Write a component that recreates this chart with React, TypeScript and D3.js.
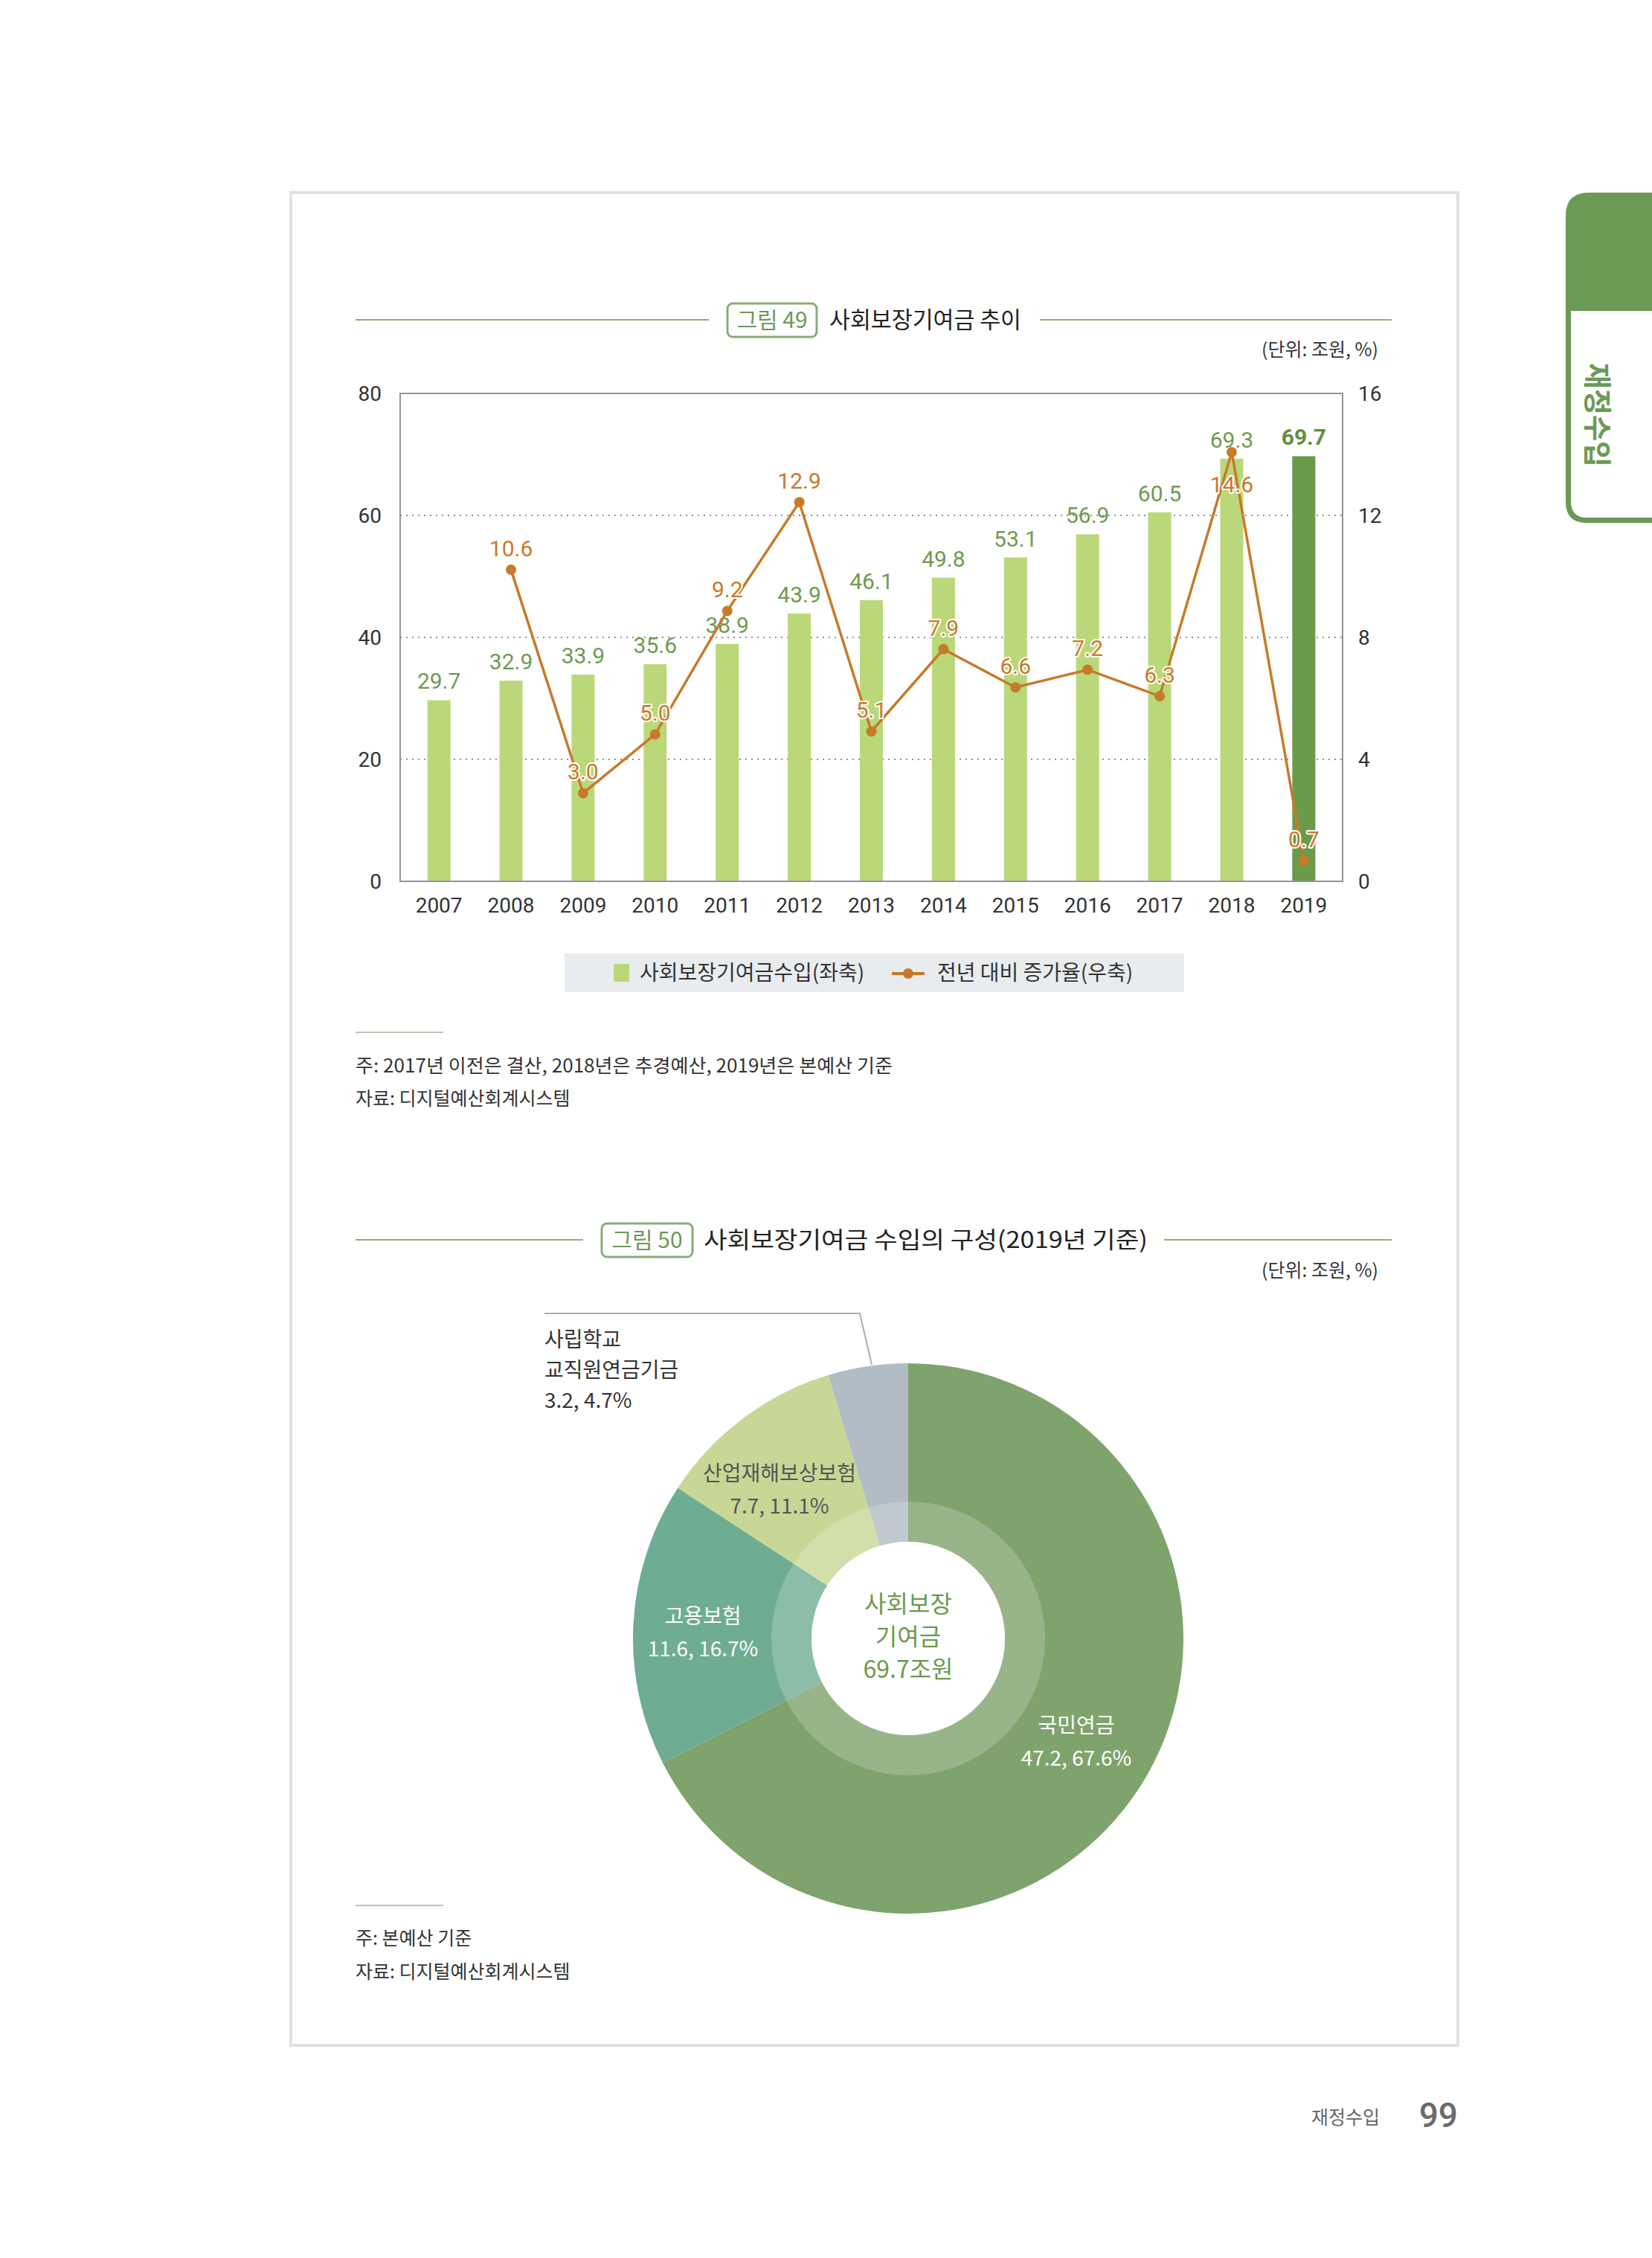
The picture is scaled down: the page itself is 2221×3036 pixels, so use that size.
import React from 'react';
import * as d3 from 'd3';

const years = ['2007', '2008', '2009', '2010', '2011', '2012', '2013', '2014', '2015', '2016', '2017', '2018', '2019'];
const revenue = [29.7, 32.9, 33.9, 35.6, 38.9, 43.9, 46.1, 49.8, 53.1, 56.9, 60.5, 69.3, 69.7];
const growthYears = ['2008', '2009', '2010', '2011', '2012', '2013', '2014', '2015', '2016', '2017', '2018', '2019'];
const growth = [10.6, 3.0, 5.0, 9.2, 12.9, 5.1, 7.9, 6.6, 7.2, 6.3, 14.6, 0.7];
const growthLabelBelow = ['2018'];
const leftTicks = [0, 20, 40, 60, 80];
const rightTicks = [0, 4, 8, 12, 16];
const gridTicks = [20, 40, 60];

const pieNames = ['국민연금', '고용보험', '산업재해보상보험', '사립학교 교직원연금기금'];
const pieAmounts = [47.2, 11.6, 7.7, 3.2];
const pieShares = [67.6, 16.7, 11.1, 4.7];
const pieColors = ['#7fa36c', '#6fad93', '#c8d796', '#b1bcc4'];

const KR = '"Noto Sans CJK KR", "Noto Sans", sans-serif';
const NUM = 'Roboto, "Noto Sans", sans-serif';
const GREEN_LINE = '#8fb07c';
const ORANGE = '#c77a2a';
const LABEL_GREEN = '#6f9a52';

function TitleBar({ y, boxX, boxW, label, title, lineL, lineR, titleX, titleLen }: any) {
  return (
    <g>
      <line x1={lineL[0]} x2={lineL[1]} y1={y} y2={y} stroke={GREEN_LINE} strokeWidth={2} />
      <line x1={lineR[0]} x2={lineR[1]} y1={y} y2={y} stroke={GREEN_LINE} strokeWidth={2} />
      <rect x={boxX} y={y - 22} width={boxW} height={45} rx={7} fill="#fff" stroke="#8aab78" strokeWidth={3} />
      <text x={boxX + boxW / 2} y={y + 11} textAnchor="middle" fontFamily={KR} fontSize={30} fill="#6c9a58">{label}</text>
      <text x={titleX} y={y + 11} fontFamily={KR} fontSize={31} fill="#222" textLength={titleLen} lengthAdjust="spacingAndGlyphs">{title}</text>
    </g>
  );
}

export default function App() {
  const L = 538, R = 1805, T = 529, B = 1185;
  const x = d3.scaleBand<string>().domain(years).range([L, R]).paddingInner(0.68).paddingOuter(0.378);
  const yL = d3.scaleLinear().domain([0, 80]).range([B, T]);
  const yR = d3.scaleLinear().domain([0, 16]).range([B, T]);
  const yLine = d3.scaleLinear().domain([0, 16.6]).range([B, T]);
  const cx = (yr: string) => (x(yr) as number) + x.bandwidth() / 2;

  const lineData = growthYears.map((yr, i) => ({ yr, v: growth[i] }));
  const linePath = d3.line<any>().x(d => cx(d.yr)).y(d => yLine(d.v))(lineData) as string;

  const pcx = 1221, pcy = 2203;
  const pieData = d3.pie<number>().sort(null).value(d => d)(pieShares);
  const outerArc = d3.arc<any>().innerRadius(130).outerRadius(370);
  const ringArc = d3.arc<any>().innerRadius(130).outerRadius(184);

  const pieLabelPos = [
    { x: 1447, y: 2330, color: '#ffffff', anchor: 'middle' },
    { x: 945, y: 2183, color: '#ffffff', anchor: 'middle' },
    { x: 1048, y: 1991, color: '#555555', anchor: 'middle' },
    { x: 732, y: 1811, color: '#333333', anchor: 'start' },
  ];

  return (
    <svg width={2221} height={3036} viewBox="0 0 2221 3036" style={{ position: 'absolute', left: 0, top: 0, background: '#fff' }}>
      <rect x={0} y={0} width={2221} height={3036} fill="#fff" />
      {/* outer frame */}
      <rect x={391} y={259} width={1569} height={2491} fill="none" stroke="#dde2e6" strokeWidth={4} />

      {/* side tab */}
      <path d="M2105,290 Q2105,259 2136,259 L2221,259 L2221,703 L2133,703 Q2105,703 2105,675 Z" fill="#6a9a55" />
      <path d="M2112,418 L2221,418 L2221,696 L2134,696 Q2112,696 2112,674 Z" fill="#fff" />
      <text x={2150} y={558} transform="rotate(90 2150 558)" textAnchor="middle" dominantBaseline="central" fontFamily={KR} fontWeight={700} fontSize={38} fill="#6a9a55">재정수입</text>

      {/* Figure 49 */}
      <TitleBar y={430} boxX={978} boxW={120} label="그림 49" title="사회보장기여금 추이" lineL={[478, 953]} lineR={[1398, 1871]} titleX={1115} titleLen={258} />
      <text x={1853} y={479} textAnchor="end" fontFamily={KR} fontSize={25} fill="#333">(단위: 조원, %)</text>

      {/* gridlines */}
      {gridTicks.map(t => (
        <line key={t} x1={L} x2={R} y1={yL(t)} y2={yL(t)} stroke="#8d9399" strokeWidth={2} strokeDasharray="2,6" />
      ))}
      {/* bars */}
      {years.map((yr, i) => (
        <rect key={yr} x={x(yr)} y={yL(revenue[i])} width={x.bandwidth()} height={B - yL(revenue[i])} fill={i === years.length - 1 ? '#6a9a4a' : '#bad87a'} />
      ))}
      {/* frame */}
      <rect x={L} y={T} width={R - L} height={B - T} fill="none" stroke="#8e969d" strokeWidth={2} />
      {/* bar labels */}
      {years.map((yr, i) => (
        <text key={yr} x={cx(yr)} y={yL(revenue[i]) - 15} textAnchor="middle" fontFamily={NUM} fontSize={30}
          fontWeight={i === years.length - 1 ? 700 : 400} fill={i === years.length - 1 ? '#5f8f40' : LABEL_GREEN}>
          {revenue[i].toFixed(1)}
        </text>
      ))}
      {/* line */}
      <path d={linePath} fill="none" stroke={ORANGE} strokeWidth={3.5} />
      {lineData.map(d => (
        <circle key={d.yr} cx={cx(d.yr)} cy={yLine(d.v)} r={7} fill={ORANGE} />
      ))}
      {lineData.map(d => {
        const below = growthLabelBelow.includes(d.yr);
        return (
          <text key={d.yr} x={cx(d.yr)} y={below ? yLine(d.v) + 54 : yLine(d.v) - 18} textAnchor="middle" fontFamily={NUM} fontSize={30}
            fill={ORANGE} stroke="#fff" strokeWidth={4} strokeLinejoin="round" style={{ paintOrder: 'stroke' }}>
            {d.v.toFixed(1)}
          </text>
        );
      })}
      {/* axes labels */}
      {leftTicks.map(t => (
        <text key={t} x={513} y={yL(t) + 10} textAnchor="end" fontFamily={NUM} fontSize={28} fill="#333">{t}</text>
      ))}
      {rightTicks.map(t => (
        <text key={t} x={1826} y={yR(t) + 10} textAnchor="start" fontFamily={NUM} fontSize={28} fill="#333">{t}</text>
      ))}
      {years.map(yr => (
        <text key={yr} x={cx(yr)} y={1227} textAnchor="middle" fontFamily={NUM} fontSize={28} fill="#333">{yr}</text>
      ))}

      {/* legend */}
      <rect x={759} y={1282} width={833} height={52} fill="#e9ecef" />
      <rect x={825} y={1296} width={21} height={24} fill="#bad87a" />
      <text x={860} y={1318} fontFamily={KR} fontSize={28} fill="#333">사회보장기여금수입(좌축)</text>
      <line x1={1199} x2={1243} y1={1309} y2={1309} stroke={ORANGE} strokeWidth={4} />
      <circle cx={1221} cy={1309} r={7} fill={ORANGE} />
      <text x={1260} y={1318} fontFamily={KR} fontSize={28} fill="#333">전년 대비 증가율(우축)</text>

      {/* notes 1 */}
      <line x1={478} x2={596} y1={1388} y2={1388} stroke="#b7c6af" strokeWidth={2} />
      <text x={478} y={1442} fontFamily={KR} fontSize={25} fill="#333" textLength={722} lengthAdjust="spacingAndGlyphs">주: 2017년 이전은 결산, 2018년은 추경예산, 2019년은 본예산 기준</text>
      <text x={478} y={1486} fontFamily={KR} fontSize={25} fill="#333">자료: 디지털예산회계시스템</text>

      {/* Figure 50 */}
      <TitleBar y={1667} boxX={809} boxW={122} label="그림 50" title="사회보장기여금 수입의 구성(2019년 기준)" lineL={[478, 784]} lineR={[1565, 1871]} titleX={946} titleLen={597} />
      <text x={1853} y={1717} textAnchor="end" fontFamily={KR} fontSize={25} fill="#333">(단위: 조원, %)</text>

      <g transform={`translate(${pcx},${pcy})`}>
        {pieData.map((d, i) => (
          <path key={i} d={outerArc(d) as string} fill={pieColors[i]} />
        ))}
        {pieData.map((d, i) => (
          <path key={'r' + i} d={ringArc(d) as string} fill="#fff" fillOpacity={0.2} />
        ))}
        <circle r={130} fill="#fff" />
      </g>
      <text x={pcx} y={2168} textAnchor="middle" fontFamily={KR} fontSize={32} fill="#6a9a4e">사회보장</text>
      <text x={pcx} y={2212} textAnchor="middle" fontFamily={KR} fontSize={32} fill="#6a9a4e">기여금</text>
      <text x={pcx} y={2256} textAnchor="middle" fontFamily={KR} fontSize={32} fill="#6a9a4e">69.7조원</text>

      {/* leader line */}
      <polyline points="732,1766 1156,1766 1172,1835" fill="none" stroke="#aab0b4" strokeWidth={2} />

      {pieNames.map((name, i) => {
        const p = pieLabelPos[i];
        const lines = i === 3 ? ['사립학교', '교직원연금기금'] : [name];
        lines.push(`${pieAmounts[i]}, ${pieShares[i]}%`);
        return (
          <g key={name}>
            {lines.map((ln, j) => (
              <text key={j} x={p.x} y={p.y + j * (i === 3 ? 41 : 44)} textAnchor={p.anchor as any} fontFamily={KR} fontSize={28} fill={p.color}>{ln}</text>
            ))}
          </g>
        );
      })}

      {/* notes 2 */}
      <line x1={478} x2={596} y1={2562} y2={2562} stroke="#b7c6af" strokeWidth={2} />
      <text x={478} y={2615} fontFamily={KR} fontSize={25} fill="#333">주: 본예산 기준</text>
      <text x={478} y={2660} fontFamily={KR} fontSize={25} fill="#333">자료: 디지털예산회계시스템</text>

      {/* footer */}
      <text x={1855} y={2856} textAnchor="end" fontFamily={KR} fontSize={25} fill="#666">재정수입</text>
      <text x={1960} y={2860} textAnchor="end" fontFamily={NUM} fontSize={46} fontWeight={500} fill="#6a6a6a">99</text>
    </svg>
  );
}
